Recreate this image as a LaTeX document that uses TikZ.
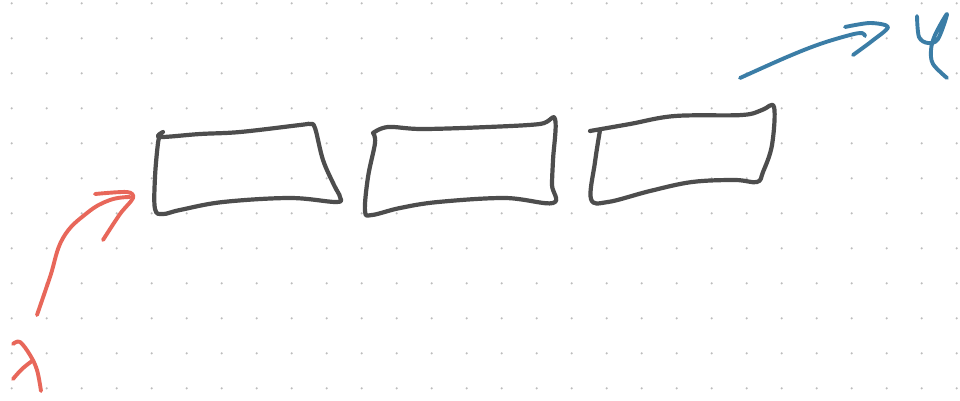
\documentclass[tikz,border=0pt]{standalone}
\begin{document}
\begin{tikzpicture}[x=1pt,y=-1pt,
  line cap=round,line join=round,
  boxline/.style={draw=boxc,line width=4.2pt},
  redline/.style={draw=redc,line width=3.9pt},
  blueline/.style={draw=bluec,line width=3.9pt}]
\definecolor{boxc}{HTML}{4D4D4D}
\definecolor{redc}{HTML}{E8675A}
\definecolor{bluec}{HTML}{3B7DA6}
\definecolor{dotc}{HTML}{BDBDBD}
\useasboundingbox[fill=white] (0,0) rectangle (960,400);
% dot grid
\foreach \i in {0,...,27}{
  \foreach \j in {0,...,11}{
    \fill[dotc] ({11.7+35*\i},{3.3+35*\j}) circle (1.2);
  }
}
% box 1
\draw[boxline] plot[smooth,tension=0.6] coordinates{
  (163,132) (160,137) (200,134) (240,132) (300,125) (310,124) (315,128)
  (323,160) (334,185) (340,197) (336,202) (290,198) (223,202) (180,210) (163,214) (155,209)
  (155,177) (158,143) (160,137)};
% box 2
\draw[boxline] plot[smooth,tension=0.6] coordinates{
  (373,133) (388,127) (422,129) (488,127) (540,124) (555,119)
  (553,160) (552,185) (553,203) (505,198) (438,202) (400,208) (372,215) (365,211)
  (368,177) (375,143) (373,133)};
% box 3
\draw[boxline] plot[smooth,tension=0.6] coordinates{
  (590,131) (630,124) (675,116) (742,115) (762,110) (774,107)
  (772,145) (763,172) (757,182) (735,180) (692,182) (650,191) (608,202) (591,199)
  (595,162) (600,130)};
% red arrow
\draw[redline] plot[smooth,tension=0.7] coordinates{
  (37,315) (50,277) (63,238) (87,213) (110,200) (130,197)};
\draw[redline] plot[smooth,tension=0.5] coordinates{
  (95,194) (127,192) (133,198) (120,214) (103,240)};
% lambda
\draw[redline] plot[smooth,tension=0.6] coordinates{
  (13,344) (20,342) (30,355) (37,370) (41,391)};
\draw[redline] plot[smooth,tension=0.6] coordinates{
  (13,379) (22,369) (32,361)};
% blue arrow
\draw[blueline] plot[smooth,tension=0.6] coordinates{
  (740,78) (787,57) (820,44) (850,35) (862,33) (865,36)};
\draw[blueline] plot[smooth,tension=0.5] coordinates{
  (845,27) (870,23) (888,27) (872,41) (853,55)};
% psi-like letter
\draw[blueline] plot[smooth,tension=0.55] coordinates{
  (917,16) (919,37) (928,43) (938,39) (947,14) (935,35) (931,50) (933,64) (947,78)};
\end{tikzpicture}
\end{document}
